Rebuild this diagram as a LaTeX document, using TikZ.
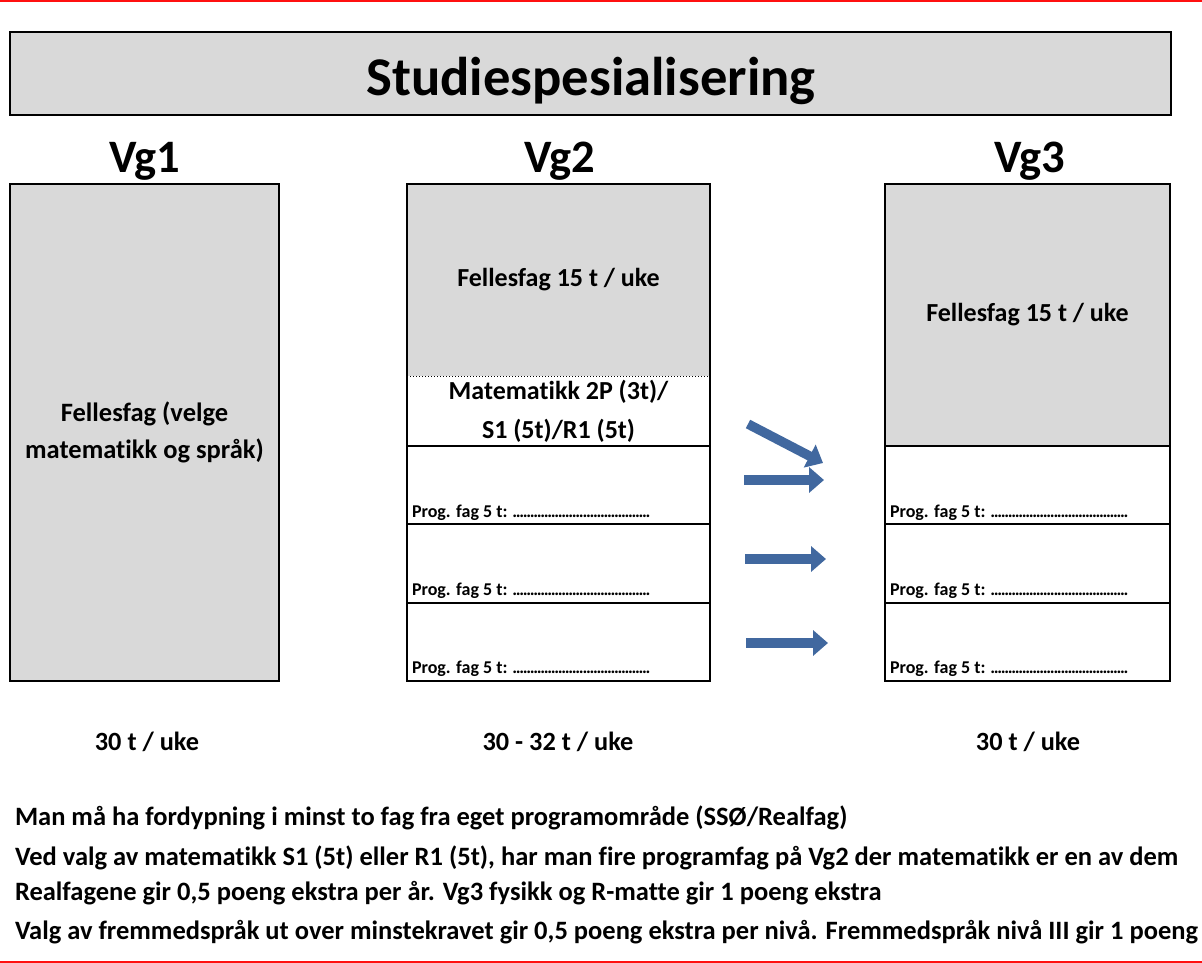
\documentclass[tikz,border=0pt]{standalone}
\usepackage{fontspec}
\setmainfont{Carlito}[Ligatures=NoCommon]
\usetikzlibrary{arrows.meta,calc}
\definecolor{boxgray}{HTML}{D9D9D9}
\definecolor{arrowblue}{HTML}{41689F}
\definecolor{redline}{HTML}{FF1010}
\tikzset{
  every node/.style={outer sep=0pt},
  frame/.style={draw=black, line width=2pt},
  grayfill/.style={fill=boxgray, inner sep=0pt, font=\bfseries\fontsize{26}{32}\selectfont, align=center},
  whitefill/.style={inner sep=0pt, font=\bfseries\fontsize{26}{39}\selectfont, align=center},
  rowbox/.style={draw=black, line width=2pt, inner sep=0pt, anchor=north west, minimum width=303pt, minimum height=78.33pt},
  rowboxb/.style={rowbox, minimum width=285pt},
  progtext/.style={anchor=base west, inner sep=0pt, font=\bfseries\fontsize{18}{20}\selectfont},
  vglabel/.style={anchor=base, inner sep=0pt, font=\bfseries\fontsize{46.5}{52}\selectfont},
  hourlabel/.style={anchor=base, inner sep=0pt, font=\bfseries\fontsize{26.3}{30}\selectfont},
  footline/.style={anchor=base west, inner sep=0pt, font=\bfseries\fontsize{26.5}{30}\selectfont},
  blockarrow/.style={draw=arrowblue, line width=9.5pt, -{Triangle[length=15pt,width=25pt]}},
}
\newcommand{\progline}{Prog. fag 5 t: \hbox to 137pt{\xleaders\hbox to 3.45pt{\hss.\hss}\hfill}}
\begin{document}
\begin{tikzpicture}[x=1pt,y=-1pt]
\useasboundingbox (0,0) rectangle (1202,963);
% red rules
\draw[redline, line width=2.5pt] (0,1.2) -- (1202,1.2);
\draw[redline, line width=2pt] (0,961.5) -- (1202,961.5);

% title
\node[draw=black, line width=2.2pt, fill=boxgray, anchor=north west, minimum width=1161pt, minimum height=83pt, inner sep=0pt] (title) at (10,32) {};
\node[anchor=base, inner sep=0pt, font=\bfseries\fontsize{54.6}{60}\selectfont] (titletext) at (591,96) {Studiespesialisering};

% Vg labels
\node[vglabel] (vg1) at (145,172) {Vg1};
\node[vglabel] (vg2) at (560,172) {Vg2};
\node[vglabel] (vg3) at (1030,172) {Vg3};

% Vg1 column
\node[grayfill, frame, anchor=north west, minimum width=269pt, minimum height=497pt, font=\bfseries\fontsize{26.5}{37}\selectfont] (v1) at (10,184) {Fellesfag (velge\\matematikk og språk)};

% Vg2 column
\node[grayfill, anchor=north west, minimum width=303pt, minimum height=192pt] (v2top) at (407,184) {Fellesfag 15 t / uke};
\node[whitefill, anchor=north west, minimum width=303pt, minimum height=70pt] (v2math) at (407,376) {Matematikk 2P (3t)/\\S1 (5t)/R1 (5t)};
\node[rowbox] (v2r1) at (407,446) {};
\node[rowbox] (v2r2) at (v2r1.south west) {};
\node[rowbox] (v2r3) at (v2r2.south west) {};
\draw[frame] (v2top.north west) rectangle (v2r3.south east);
\draw[black, line width=1pt, dotted] (v2top.south west) -- (v2top.south east);
\node[progtext] (v2p1) at ($(v2r1.south west)+(5,-7)$) {\progline};
\node[progtext] (v2p2) at ($(v2r2.south west)+(5,-7)$) {\progline};
\node[progtext] (v2p3) at ($(v2r3.south west)+(5,-7)$) {\progline};

% Vg3 column
\node[grayfill, anchor=north west, minimum width=285pt, minimum height=262pt] (v3top) at (885,184) {Fellesfag 15 t / uke};
\node[rowboxb] (v3r1) at (885,446) {};
\node[rowboxb] (v3r2) at (v3r1.south west) {};
\node[rowboxb] (v3r3) at (v3r2.south west) {};
\draw[frame] (v3top.north west) rectangle (v3r3.south east);
\node[progtext] (v3p1) at ($(v3r1.south west)+(5,-7)$) {\progline};
\node[progtext] (v3p2) at ($(v3r2.south west)+(5,-7)$) {\progline};
\node[progtext] (v3p3) at ($(v3r3.south west)+(5,-7)$) {\progline};

% arrows
\coordinate (a0s) at (748,424);
\coordinate (a0e) at (823,463);
\coordinate (a1s) at (744,480);
\coordinate (a1e) at (824,480);
\coordinate (a2s) at (745,559);
\coordinate (a2e) at (826,559);
\coordinate (a3s) at (746,643);
\coordinate (a3e) at (828,643);
\draw[blockarrow] (a0s) -- (a0e);
\draw[blockarrow] (a1s) -- (a1e);
\draw[blockarrow] (a2s) -- (a2e);
\draw[blockarrow] (a3s) -- (a3e);

% hours
\node[hourlabel] (h1) at (147,750) {30 t / uke};
\node[hourlabel] (h2) at (558,750) {30 - 32 t / uke};
\node[hourlabel] (h3) at (1028,750) {30 t / uke};

% notes
\node[footline] (n1) at (15,825) {Man må ha fordypning i minst to fag fra eget programområde (SSØ/Realfag)};
\node[footline] (n2) at (15,865) {Ved valg av matematikk S1 (5t) eller R1 (5t), har man fire programfag på Vg2 der matematikk er en av dem};
\node[footline] (n3) at (15,900) {Realfagene gir 0,5 poeng ekstra per år. Vg3 fysikk og R-matte gir 1 poeng ekstra};
\node[footline] (n4) at (15,939) {Valg av fremmedspråk ut over minstekravet gir 0,5 poeng ekstra per nivå. Fremmedspråk nivå III gir 1 poeng};
\end{tikzpicture}
\end{document}
